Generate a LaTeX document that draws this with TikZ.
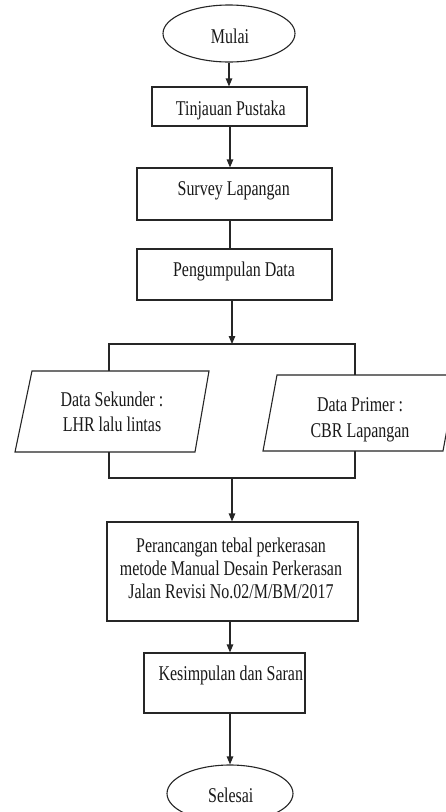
\documentclass[tikz,border=0pt]{standalone}
\usepackage{fontspec}
\setmainfont{Liberation Serif}[FakeStretch=0.76]
\usetikzlibrary{shapes.geometric,arrows.meta,calc}
\begin{document}
\begin{tikzpicture}[x=1pt,y=-1pt,
  line/.style={draw=black!85,line width=1.1pt},
  boxnode/.style={line,rectangle,inner sep=0pt},
  term/.style={line,ellipse,inner sep=0pt},
  txt/.style={font=\fontsize{21}{24}\selectfont,text=black!90,align=center,inner sep=0pt},
  arr/.style={line,-{Triangle[length=8pt,width=6.5pt]}}]
\useasboundingbox[fill=white] (0,0) rectangle (446,812);
% terminals and boxes
\node[term,minimum width=132pt,minimum height=57pt] (mulai) at (229,33.5) {};
\node[txt,anchor=base] (mulait) at (230,43) {Mulai};
\node[boxnode,minimum width=155pt,minimum height=39pt] (tp) at (229.5,106.5) {};
\node[txt,anchor=base] (tpt) at (230.8,115) {Tinjauan Pustaka};
\node[boxnode,minimum width=195pt,minimum height=52pt] (sv) at (234.5,194) {};
\node[txt,anchor=base] (svt) at (233.7,195) {Survey Lapangan};
\node[boxnode,minimum width=195pt,minimum height=51pt] (pd) at (234.5,274.5) {};
\node[txt,anchor=base] (pdt) at (234,276.7) {Pengumpulan Data};
% parallelograms
\coordinate (l1) at (32,371);
\coordinate (l2) at (209,371);
\coordinate (l3) at (195,452);
\coordinate (l4) at (15,452);
\draw[line] (l1) -- (l2) -- (l3) -- (l4) -- cycle;
\node[txt,font=\fontsize{21}{25}\selectfont] (dst) at (112,412) {Data Sekunder :\\LHR lalu lintas};
\coordinate (r1) at (277,375);
\coordinate (r2) at (457,375);
\coordinate (r3) at (443,451);
\coordinate (r4) at (263,451);
\draw[line] (r1) -- (r2) -- (r3) -- (r4) -- cycle;
\node[txt,font=\fontsize{21}{26}\selectfont] (dpt) at (360,420) {Data Primer :\\CBR Lapangan};
\node[boxnode,minimum width=251pt,minimum height=99pt] (pr) at (232.5,571.5) {};
\node[txt,font=\fontsize{21}{23.3}\selectfont] (prt) at (231,568.5) {Perancangan tebal perkerasan\\metode Manual Desain Perkerasan\\Jalan Revisi No.02/M/BM/2017};
\node[boxnode,minimum width=161pt,minimum height=60pt] (ks) at (224.5,683) {};
\node[txt,anchor=base] (kst) at (230.8,680) {Kesimpulan dan Saran};
\node[term,minimum width=126pt,minimum height=57pt] (sl) at (230,793.5) {};
\node[txt,anchor=base] (slt) at (230.8,802) {Selesai};
% junction coordinates
\coordinate (col) at (230,0);
\coordinate (colb) at (232,0);
\coordinate (jt) at (232,344);
\coordinate (jtl) at (109,344);
\coordinate (jtr) at (355,344);
\coordinate (jb) at (232,478);
\coordinate (jbl) at (109,478);
\coordinate (jbr) at (355,478);
% connectors
\draw[arr] (mulai.south) -- (mulai.south |- tp.north);
\draw[arr] (col |- tp.south) -- (col |- sv.north);
\draw[line] (col |- sv.south) -- (col |- pd.north);
\draw[arr] (colb |- pd.south) -- (jt);
\draw[line] (jtl |- l1) -- (jtl) -- (jtr) -- (jtr |- r1);
\draw[line] (jbl |- l4) -- (jbl) -- (jbr) -- (jbr |- r4);
\draw[arr] (jb) -- (jb |- pr.north);
\draw[arr] (col |- pr.south) -- (col |- ks.north);
\draw[arr] (col |- ks.south) -- (col |- sl.north);
\end{tikzpicture}
\end{document}
